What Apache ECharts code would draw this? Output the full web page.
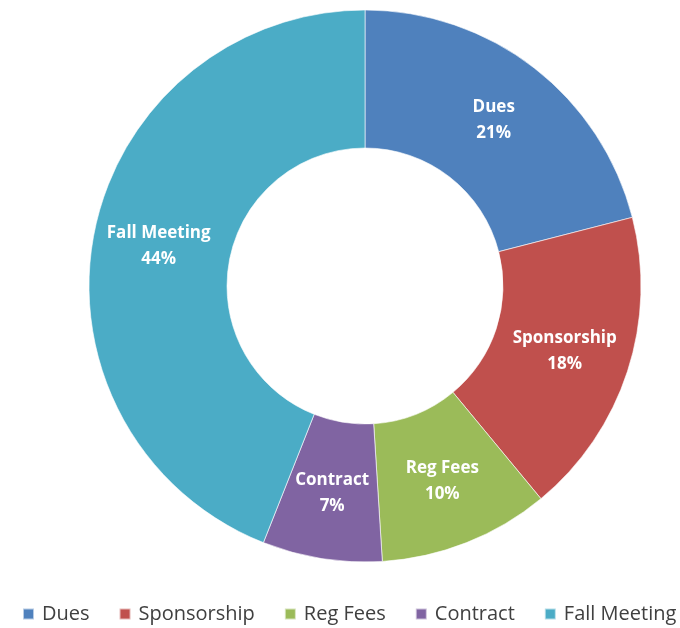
<!DOCTYPE html>
<html>
<head>
<meta charset="utf-8">
<script src="https://cdn.jsdelivr.net/npm/echarts@6/dist/echarts.min.js"></script>
<style>
  html, body { margin: 0; padding: 0; background: #fff; }
  #chart { width: 680px; height: 628px; }
</style>
</head>
<body>
<div id="chart"></div>
<script>
// 收入构成
const categories = ["Dues", "Sponsorship", "Reg Fees", "Contract", "Fall Meeting"];
const values = [21, 18, 10, 7, 44];
const colors = ["#4F81BD", "#C0504D", "#9BBB59", "#8064A2", "#4BACC6"];
const fontFamily = "'Open Sans', 'Noto Sans', sans-serif";

let data = categories.map((name, i) => ({
  name: name,
  value: values[i],
  itemStyle: { color: colors[i] }
}));

let myChart = echarts.init(document.getElementById("chart"));
let option = {
  animation: false,
  legend: {
    bottom: 4,
    left: 22,
    width: 680,
    padding: 0,
    icon: "rect",
    itemWidth: 11,
    itemHeight: 11,
    itemGap: 29,
    textStyle: {
      color: "#404040",
      fontSize: 20,
      fontFamily: fontFamily,
      padding: [0, 0, 0, 3]
    },
    data: categories
  },
  series: [{
    type: "pie",
    center: [365, 286],
    radius: [138, 276],
    startAngle: 90,
    clockwise: true,
    avoidLabelOverlap: false,
    itemStyle: {
      borderColor: "rgba(255,255,255,0.6)",
      borderWidth: 1
    },
    label: {
      show: true,
      position: "inside",
      color: "#fff",
      fontWeight: "bold",
      fontSize: 17,
      lineHeight: 26,
      fontFamily: fontFamily,
      formatter: (p) => p.name + "\n" + p.value + "%"
    },
    labelLine: { show: false },
    data: data
  }]
};
myChart.setOption(option);
window.addEventListener("resize", function () {
  myChart.resize();
});
</script>
</body>
</html>
